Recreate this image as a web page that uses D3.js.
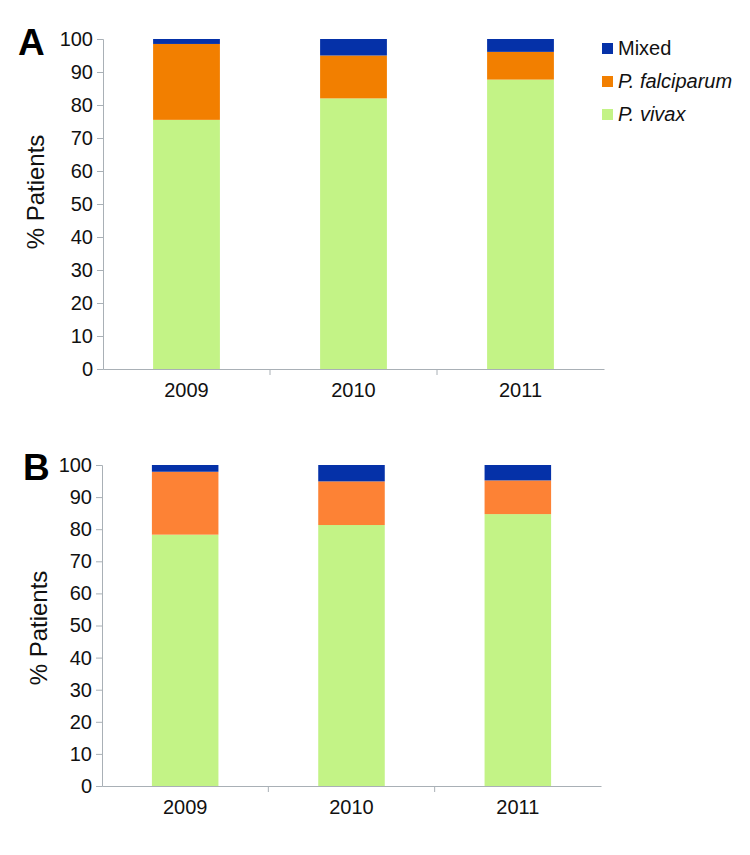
<!DOCTYPE html>
<html><head><meta charset="utf-8">
<script src="https://cdn.jsdelivr.net/npm/d3@7"></script>
<style>
body{margin:0;background:#fff;}
svg text{font-family:"Liberation Sans",Arial,sans-serif;}
</style></head>
<body><svg id="c" width="750" height="855"></svg>
<script>
const years = ["2009","2010","2011"];
const seriesNames = ["P. vivax","P. falciparum","Mixed"];
const yTicks = [0,10,20,30,40,50,60,70,80,90,100];
// Panel A
const vivaxA = [75.5, 82.0, 87.7];
const falciparumA = [23.0, 13.0, 8.4];
const mixedA = [1.5, 5.0, 3.9];
// Panel B
const vivaxB = [78.3, 81.3, 84.7];
const falciparumB = [19.6, 13.6, 10.5];
const mixedB = [2.1, 5.1, 4.8];

const svg = d3.select("#c");

function panel(cfg){
  const {letter, vivax, falc, mixed, x0, x1, yTop, yBot, orange, lx, lettX, ly, labY} = cfg;
  const colors = {"P. vivax":"#c3f386","P. falciparum":orange,"Mixed":"#0531a8"};
  const rows = years.map((yr,i)=>({year:yr,"P. vivax":vivax[i],"P. falciparum":falc[i],"Mixed":mixed[i]}));
  const stack = d3.stack().keys(seriesNames)(rows);
  const x = d3.scaleBand().domain(years).range([x0,x1]).paddingInner(0.6).paddingOuter(0.3);
  const xa = d3.scaleBand().domain(years).range([x0,x1]);
  const y = d3.scaleLinear().domain([0,100]).range([yBot,yTop]);
  const g = svg.append("g");
  stack.forEach(s=>{
    g.selectAll(null).data(s).enter().append("rect")
      .attr("x",d=>x(d.data.year)).attr("width",x.bandwidth())
      .attr("y",d=>y(d[1])).attr("height",d=>y(d[0])-y(d[1]))
      .attr("fill",colors[s.key]);
  });
  // y axis
  const ya = g.append("g").attr("transform",`translate(${x0},0)`)
    .call(d3.axisLeft(y).tickValues(yTicks).tickSize(6).tickPadding(4));
  ya.select(".domain").attr("stroke","#a9b0b6");
  ya.selectAll(".tick line").attr("stroke","#a9b0b6");
  ya.selectAll(".tick text").attr("font-size",20).attr("fill","#111");
  // x axis
  const xaG = g.append("g").attr("transform",`translate(0,${yBot})`)
    .call(d3.axisBottom(xa).tickSize(0).tickPadding(14));
  xaG.select(".domain").attr("stroke","#a9b0b6");
  xaG.selectAll(".tick text").attr("font-size",20).attr("fill","#111");
  // category separator ticks
  g.selectAll(null).data(years.slice(1)).enter().append("line")
    .attr("x1",d=>xa(d)).attr("x2",d=>xa(d))
    .attr("y1",yBot).attr("y2",yBot+6).attr("stroke","#a9b0b6");
  // y label
  g.append("text").attr("transform",`translate(${lx},${labY}) rotate(-90)`)
    .attr("text-anchor","middle").attr("font-size",24).attr("fill","#111").text("% Patients");
  // panel letter
  g.append("text").attr("x",lettX).attr("y",ly).attr("font-size",37).attr("font-weight","bold")
    .attr("fill","#000").text(letter);
}

panel({letter:"A",vivax:vivaxA,falc:falciparumA,mixed:mixedA,x0:103,x1:604,yTop:39,yBot:369,
  orange:"#f27f00",lx:44,lettX:18,ly:55,labY:192});
panel({letter:"B",vivax:vivaxB,falc:falciparumB,mixed:mixedB,x0:102,x1:601,yTop:465,yBot:786,
  orange:"#fd8235",lx:47,lettX:23,ly:480,labY:628});

// legend
const legendItems = [
  {name:"Mixed", color:"#0531a8", italic:false},
  {name:"P. falciparum", color:"#f27f00", italic:true},
  {name:"P. vivax", color:"#c3f386", italic:true}
];
const lg = svg.append("g").selectAll(null).data(legendItems).enter().append("g")
  .attr("transform",(d,i)=>`translate(602,${43+i*33})`);
lg.append("rect").attr("width",11).attr("height",11).attr("fill",d=>d.color);
lg.append("text").attr("x",16).attr("y",12).attr("font-size",20).attr("fill","#111")
  .attr("font-style",d=>d.italic?"italic":"normal").text(d=>d.name);
</script></body></html>
